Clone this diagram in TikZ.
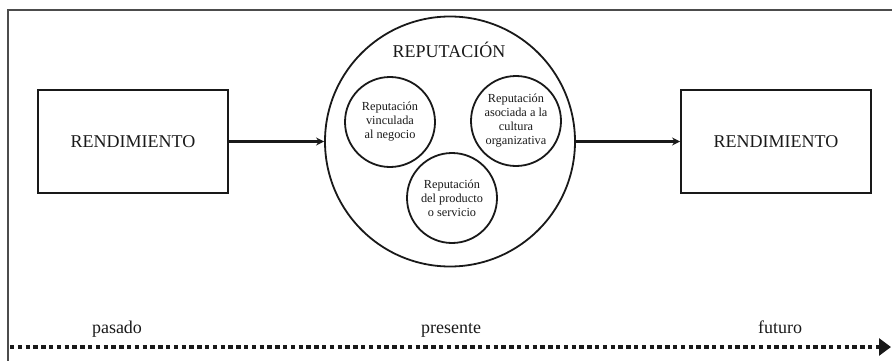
\documentclass[tikz,border=0pt]{standalone}
\usepackage{fontspec}
\setmainfont{Liberation Serif}
\usetikzlibrary{arrows.meta}
\definecolor{negrorep}{gray}{0.1}
\definecolor{marcorep}{gray}{0.3}

\begin{document}
\begin{tikzpicture}[x=1pt,y=-1pt,negrorep,line width=1.8pt,
	caja/.style={draw,minimum width=190pt,minimum height=103pt,inner sep=0pt,font=\fontsize{18}{20}\selectfont},
	burbuja/.style={draw,circle,minimum size=90pt,inner sep=0pt,align=center,font=\fontsize{12.3}{14}\selectfont},
	flecha/.style={line width=2.6pt,-{Stealth[length=8pt,width=8pt]}},
	tiempo/.style={font=\fontsize{18}{20}\selectfont,anchor=base}]
			\useasboundingbox (0,0) rectangle (892,361);
			\draw[marcorep,line width=2pt]  (892,10)-- (7.5,10)-- (7.5,361);
			
			\node[caja] (rend1) at (133,141.5) {RENDIMIENTO};
			\node[caja] (rend2) at (776,141.5) {RENDIMIENTO};
			\node[draw,circle,minimum size=250pt,inner sep=0pt] (rep) at (450,141.5) {};
			\node[font=\fontsize{18}{20}\selectfont,anchor=base] (reptit) at (449,58) {REPUTACIÓN};
			
			\node[burbuja] (negocio) at (390,122) {Reputación\\vinculada\\al negocio};
			\node[burbuja] (cultura) at (516,121) {Reputación\\asociada a la\\cultura\\organizativa};
			\node[burbuja] (producto) at (452,198) {Reputación\\del producto\\o servicio};
			
			\draw[flecha]  (rend1.east)-- (rep.west);
			\draw[flecha]  (rep.east)-- (rend2.west);
			
			\coordinate (tini) at (10,347);
			\coordinate (tfin) at (891,347);
			\draw[line width=3.6pt,dash pattern=on 4.4pt off 3.4pt,-{Triangle[length=12pt,width=17pt]}]  (tini)-- (tfin);
			
			\node[tiempo] (pasado) at (117,333) {pasado};
			\node[tiempo] (presente) at (451,333) {presente};
			\node[tiempo] (futuro) at (780,333) {futuro};
		\end{tikzpicture}
\end{document}
